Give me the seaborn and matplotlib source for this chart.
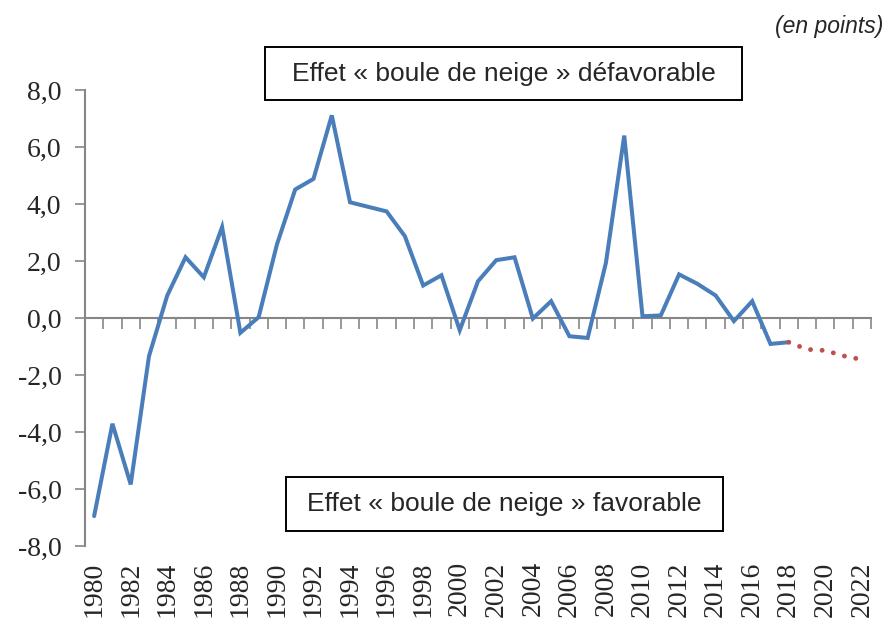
import numpy as np
import pandas as pd
import matplotlib
matplotlib.use("Agg")
import matplotlib.pyplot as plt
from matplotlib.patches import Rectangle
import seaborn as sns

years = list(range(1980, 2019))
values = [-6.95, -3.71, -5.84, -1.34, 0.79, 2.13, 1.43, 3.19, -0.52, 0.03,
          2.58, 4.51, 4.88, 7.11, 4.06, 3.90, 3.74, 2.87, 1.14, 1.50,
          -0.43, 1.29, 2.03, 2.13, -0.02, 0.59, -0.64, -0.70, 1.94, 6.40,
          0.06, 0.09, 1.53, 1.20, 0.79, -0.11, 0.59, -0.91, -0.85]
proj_years = [2018, 2019, 2020, 2021, 2022]
proj_values = [-0.85, -1.10, -1.14, -1.33, -1.46]
ytick_vals = [-8, -6, -4, -2, 0, 2, 4, 6, 8]
ytick_labels = ["-8,0", "-6,0", "-4,0", "-2,0", "0,0", "2,0", "4,0", "6,0", "8,0"]
xtick_years = list(range(1980, 2023, 2))
label_top = "Effet « boule de neige » défavorable"
label_bottom = "Effet « boule de neige » favorable"
unit_label = "(en points)"

sns.set_theme(style="white")
plt.rcParams['font.family'] = ['Liberation Serif', 'DejaVu Serif']

W, H = 888, 618
fig = plt.figure(figsize=(W / 100, H / 100), dpi=100)
ax = fig.add_axes([85/W, 1-546/H, (871-85)/W, (546-90)/H])

df = pd.DataFrame({"year": years, "value": values})
dfp = pd.DataFrame({"year": proj_years, "value": proj_values})
grey = "#868686"

sns.lineplot(data=df, x="year", y="value", ax=ax, color="#4A7EBB", linewidth=2.9,
             solid_joinstyle="miter", zorder=3)
sns.lineplot(data=dfp, x="year", y="value", ax=ax, color="#C0504D", linewidth=3.5,
             linestyle=(0, (0.01, 2.37)), dash_capstyle="round", zorder=3)

ax.set_xlim(years[0] - 0.5, proj_years[-1] + 0.5)
ax.set_ylim(-8, 8)
ax.set_xlabel("")
ax.set_ylabel("")

# y axis
ax.set_yticks(ytick_vals)
ax.set_yticklabels(ytick_labels, fontsize=20)
ax.tick_params(axis="y", direction="out", length=7, width=1.2, color=grey, pad=10, left=True)
ax.spines["left"].set_color(grey)
ax.spines["left"].set_linewidth(1.5)
for s in ["top", "right"]:
    ax.spines[s].set_visible(False)

# x axis at zero with boundary ticks
ax.spines["bottom"].set_position(("data", 0))
ax.spines["bottom"].set_color(grey)
ax.spines["bottom"].set_linewidth(1.5)
boundaries = np.arange(years[0] - 0.5, proj_years[-1] + 0.51, 1.0)
ax.set_xticks(boundaries)
ax.set_xticklabels([])
ax.tick_params(axis="x", direction="out", length=8, width=1.2, color=grey, bottom=True)

# tick labels at the bottom via twin axis
ax2 = ax.twiny()
ax2.set_xlim(ax.get_xlim())
ax2.xaxis.set_ticks_position("bottom")
for s in ax2.spines.values():
    s.set_visible(False)
ax2.set_xticks(xtick_years)
ax2.set_xticklabels([str(y) for y in xtick_years], rotation=90, fontsize=20)
ax2.tick_params(axis="x", length=0, pad=11, top=False, bottom=True,
                labelbottom=True, labeltop=False)
ax2.grid(False)
ax.grid(False)

# annotation boxes (pixel geometry of the reference frames)
def frame(x0, y0, x1, y1):
    fig.patches.append(Rectangle((x0 / W, 1 - y1 / H), (x1 - x0) / W, (y1 - y0) / H,
                                 transform=fig.transFigure, facecolor="white",
                                 edgecolor="black", linewidth=1.4, zorder=5))

frame(265, 47, 742, 100)
frame(286, 477, 723, 531)
fig.text(503.5/W, 1-74/H, label_top, ha="center", va="center", fontsize=19,
         family="Liberation Sans", zorder=6)
fig.text(504.5/W, 1-504.5/H, label_bottom, ha="center", va="center", fontsize=19,
         family="Liberation Sans", zorder=6)
fig.text(883/W, 1-27/H, unit_label, ha="right", va="center", fontsize=16.5,
         family="Liberation Sans", style="italic")

fig.savefig("out.png", dpi=100)
